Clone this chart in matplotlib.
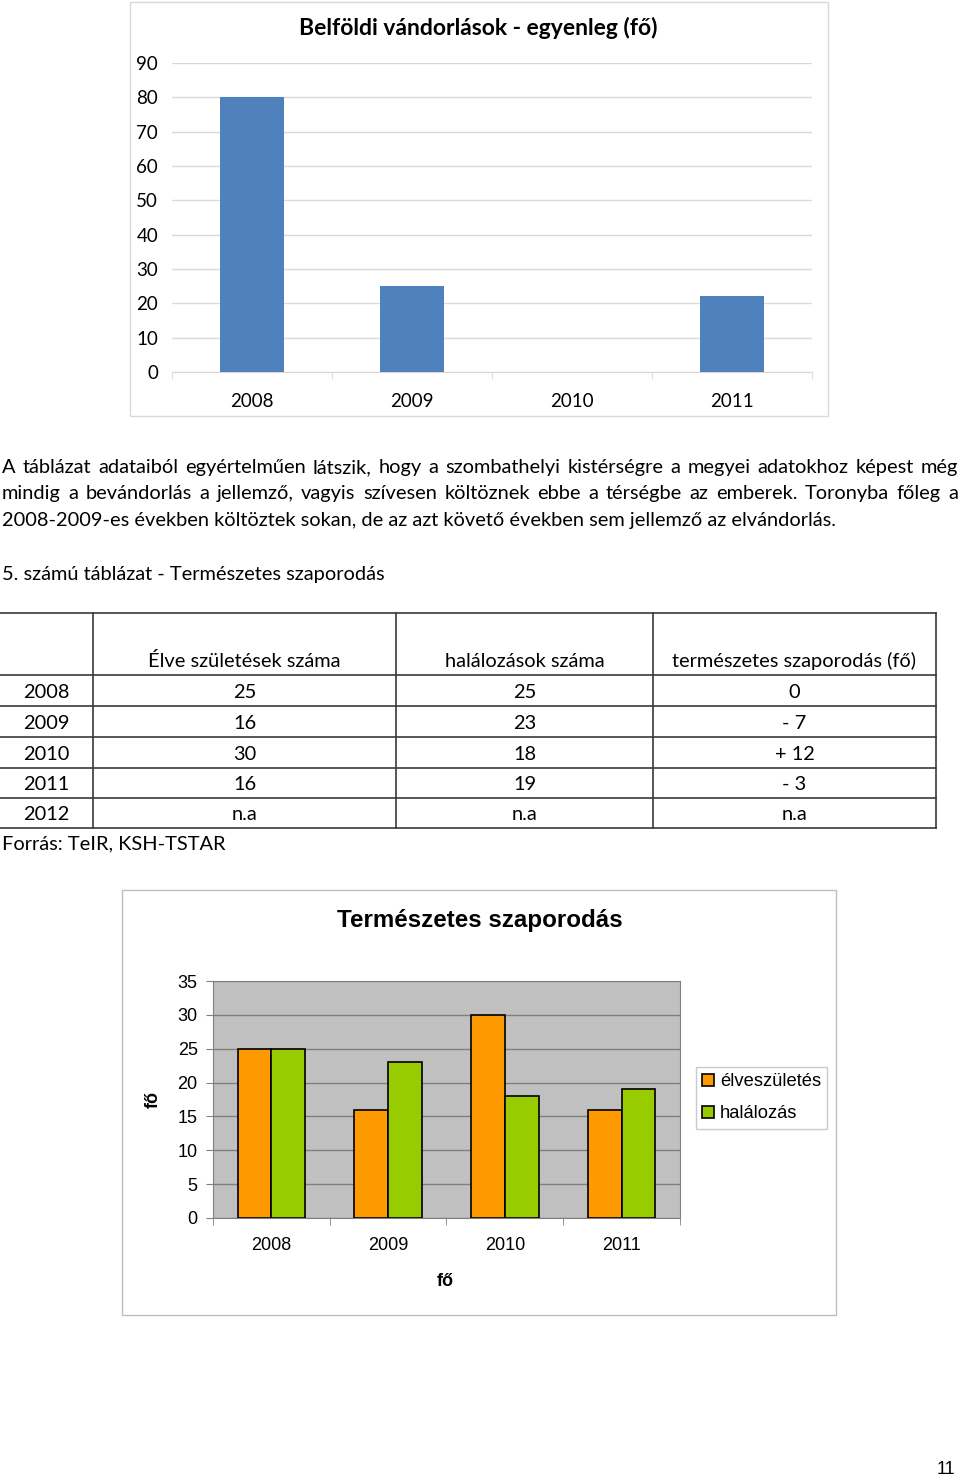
#!/usr/bin/env python3
"""
Page with two charts and a table: domestic migration balance and natural increase.
"""

import matplotlib
matplotlib.use("Agg")
import matplotlib.pyplot as plt
from matplotlib.patches import Rectangle
import numpy as np

W, H = 960, 1478

# --- data -------------------------------------------------------------
migr_years = ["2008", "2009", "2010", "2011"]
migr_balance = [80, 25, 0, 22]

table_header = ["", "Élve születések száma", "halálozások száma", "természetes szaporodás (fő)"]
table_years = ["2008", "2009", "2010", "2011", "2012"]
table_births = ["25", "16", "30", "16", "n.a"]
table_deaths = ["25", "23", "18", "19", "n.a"]
table_natural = ["0", "- 7", "+ 12", "- 3", "n.a"]

nat_years = ["2008", "2009", "2010", "2011"]
births = [25, 16, 30, 16]
deaths = [25, 23, 18, 19]

paragraph = [
    "A táblázat adataiból egyértelműen látszik, hogy a szombathelyi kistérségre a megyei adatokhoz képest még",
    "mindig a bevándorlás a jellemző, vagyis szívesen költöznek ebbe a térségbe az emberek. Toronyba főleg a",
    "2008-2009-es években költöztek sokan, de az azt követő években sem jellemző az elvándorlás.",
]

BODY_FONT = ["Lato", "DejaVu Sans"]
CHART_FONT = ["Liberation Sans", "DejaVu Sans"]
BODY_SIZE = 14.4


def fx(x):
    return x / W


def fy(y):
    return 1 - y / H


def add_axes_px(fig, left, top, right, bottom):
    return fig.add_axes([fx(left), fy(bottom), (right - left) / W, (bottom - top) / H])


def frame_px(fig, left, top, right, bottom, color):
    fig.patches.append(Rectangle((fx(left), fy(bottom)), (right - left) / W, (bottom - top) / H,
                                 transform=fig.transFigure, fill=False, edgecolor=color, lw=1))


def hline_px(fig, x0, x1, y, color="#3a3a3a", lw=1.2):
    fig.add_artist(plt.Line2D([fx(x0), fx(x1)], [fy(y), fy(y)], transform=fig.transFigure,
                              color=color, lw=lw))


def vline_px(fig, x, y0, y1, color="#3a3a3a", lw=1.2):
    fig.add_artist(plt.Line2D([fx(x), fx(x)], [fy(y0), fy(y1)], transform=fig.transFigure,
                              color=color, lw=lw))


def justify_line(fig, line, x0, x1, y, size):
    words = line.split(" ")
    renderer = fig.canvas.get_renderer()
    items = [fig.text(0, fy(y), w, fontsize=size, family=BODY_FONT, va="baseline") for w in words]
    widths = [t.get_window_extent(renderer).width for t in items]
    gap = ((x1 - x0) - sum(widths)) / (len(words) - 1)
    x = x0
    for t, w in zip(items, widths):
        t.set_x(fx(x))
        x += w + gap


fig = plt.figure(figsize=(W / 100, H / 100), dpi=100)
fig.patch.set_facecolor("white")

# --- chart 1: domestic migration balance -------------------------------
frame_px(fig, 130, 2, 828, 416, "#d9d9d9")
ax1 = add_axes_px(fig, 172, 63, 812, 372)
x = np.arange(len(migr_years))
ax1.bar(x, migr_balance, width=0.4, color="#4f81bd", zorder=3)
ax1.set_xlim(-0.5, len(migr_years) - 0.5)
ax1.set_ylim(0, 90)
ax1.set_yticks(range(0, 91, 10))
ax1.yaxis.grid(True, color="#d9d9d9", lw=1)
ax1.set_axisbelow(True)
for s in ["top", "right", "left"]:
    ax1.spines[s].set_visible(False)
ax1.spines["bottom"].set_color("#d9d9d9")
ax1.tick_params(axis="y", length=0, pad=10, labelsize=13.5)
ax1.set_xticks(x)
ax1.set_xticklabels(migr_years)
ax1.tick_params(axis="x", length=0, pad=15, labelsize=13.5)
ax1.set_xticks(np.arange(-0.5, len(migr_years)), minor=True)
ax1.tick_params(axis="x", which="minor", length=5, color="#d9d9d9")
for lab in ax1.get_xticklabels() + ax1.get_yticklabels():
    lab.set_family(BODY_FONT)
fig.text(fx(478), fy(28), "Belföldi vándorlások - egyenleg (fő)", ha="center", va="center",
         fontsize=16.5, fontweight="bold", family=BODY_FONT)

# --- paragraph ---------------------------------------------------------
justify_line(fig, paragraph[0], 2, 958, 473, BODY_SIZE)
justify_line(fig, paragraph[1], 2, 958, 499, BODY_SIZE)
fig.text(fx(2), fy(526), paragraph[2], fontsize=BODY_SIZE, family=BODY_FONT, va="baseline")
fig.text(fx(2), fy(580), "5. számú táblázat - Természetes szaporodás", fontsize=BODY_SIZE,
         family=BODY_FONT, va="baseline")

# --- table -------------------------------------------------------------
col_x = [0, 93, 396, 653, 936]
row_y = [613, 675, 706, 737, 768, 798, 828]
for yy in row_y:
    hline_px(fig, 0, 936, yy)
for xx in col_x[1:]:
    vline_px(fig, xx, 613, 828)
for j, head in enumerate(table_header):
    cx = (col_x[j] + col_x[j + 1]) / 2
    fig.text(fx(cx), fy(667), head, ha="center", va="baseline", fontsize=BODY_SIZE, family=BODY_FONT)
for i in range(len(table_years)):
    by = (row_y[i + 1] + row_y[i + 2]) / 2 + 7
    row = [table_years[i], table_births[i], table_deaths[i], table_natural[i]]
    for j, val in enumerate(row):
        cx = (col_x[j] + col_x[j + 1]) / 2
        fig.text(fx(cx), fy(by), val, ha="center", va="baseline", fontsize=BODY_SIZE, family=BODY_FONT)
fig.text(fx(2), fy(849), "Forrás: TeIR, KSH-TSTAR", fontsize=BODY_SIZE, family=BODY_FONT, va="baseline")

# --- chart 2: natural increase -----------------------------------------
frame_px(fig, 122, 890, 836, 1315, "#bfbfbf")
ax2 = add_axes_px(fig, 213, 981, 680, 1218)
x = np.arange(len(nat_years))
bw = 0.29
ax2.bar(x - bw / 2, births, width=bw, color="#ff9900", edgecolor="black", lw=1.2,
        label="élveszületés", zorder=3)
ax2.bar(x + bw / 2, deaths, width=bw, color="#99cc00", edgecolor="black", lw=1.2,
        label="halálozás", zorder=3)
ax2.set_facecolor("#c0c0c0")
ax2.set_xlim(-0.5, len(nat_years) - 0.5)
ax2.set_ylim(0, 35)
ax2.set_yticks(range(0, 36, 5))
ax2.yaxis.grid(True, color="#7f7f7f", lw=1)
ax2.set_axisbelow(True)
for s in ax2.spines.values():
    s.set_color("#808080")
ax2.tick_params(axis="y", length=5, color="#808080", pad=6, labelsize=13)
ax2.set_xticks(x)
ax2.set_xticklabels(nat_years)
ax2.tick_params(axis="x", length=0, pad=14, labelsize=13)
ax2.set_xticks(np.arange(-0.5, len(nat_years)), minor=True)
ax2.tick_params(axis="x", which="minor", length=5, color="#808080")
for lab in ax2.get_xticklabels() + ax2.get_yticklabels():
    lab.set_family(CHART_FONT)
fig.text(fx(153), fy(1100), "fő", rotation=90, ha="center", va="center", fontsize=13,
         fontweight="bold", family=CHART_FONT)
fig.text(fx(445), fy(1281), "fő", ha="center", va="center", fontsize=13,
         fontweight="bold", family=CHART_FONT)
fig.text(fx(480), fy(920), "Természetes szaporodás", ha="center", va="center", fontsize=17.4,
         fontweight="bold", family=CHART_FONT)
leg = ax2.legend(loc="upper left", bbox_to_anchor=(fx(696), fy(1067)), bbox_transform=fig.transFigure,
                 borderaxespad=0, fancybox=False, edgecolor="#bfbfbf", handlelength=0.65,
                 handleheight=0.65, handletextpad=0.3, labelspacing=0.8, borderpad=0.35,
                 prop={"family": CHART_FONT, "size": 13.2})
leg.get_frame().set_linewidth(1)

fig.text(fx(946), fy(1470), "11", ha="center", va="center", fontsize=13, family=CHART_FONT)

fig.savefig("out.png", dpi=100)
